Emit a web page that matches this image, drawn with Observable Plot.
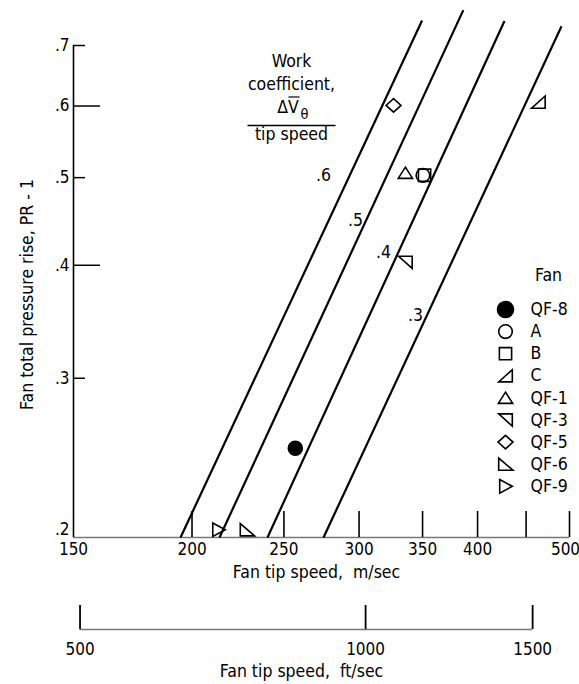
<!DOCTYPE html>
<html><head><meta charset="utf-8">
<script src="https://cdn.jsdelivr.net/npm/d3@7"></script>
<script src="https://cdn.jsdelivr.net/npm/@observablehq/plot@0.6"></script>
<style>
body{margin:0;background:#fff;}
#chart svg{display:block;}
</style></head><body><div id="chart"></div>
<script>
// ---- data ----
const fanNames = ["QF-8","A","B","C","QF-1","QF-3","QF-5","QF-6","QF-9"];
const fanTipSpeed = [257.0,350.3,351.7,463.6,335.7,335.7,326.2,228.6,213.3];   // m/sec
const fanPressureRise = [0.251,0.503,0.503,0.606,0.506,0.403,0.601,0.204,0.204]; // PR - 1
const coeffLabels = [".6",".5",".4",".3"];
const coeffSpeedLow = [194.5,213.8,240.2,275.2];
const coeffRiseLow = [0.2,0.2,0.2,0.2];
const coeffSpeedHigh = [349.6,386.4,427.0,490.4];
const coeffRiseHigh = [0.746,0.766,0.745,0.735];
const coeffLabelSpeed = [275.2,297.5,318.4,344.1];
const coeffLabelRise = [0.503,0.448,0.413,0.352];
const xTicks = [200,250,300,350,400,450,500];
const xLabelValues = [150,200,250,300,350,400,500];
const xTickLabels = ["150","200","250","300","350","400","500"];
const yMajorTicks = [0.4,0.6];
const yMinorTicks = [0.3,0.5,0.7];
const yTickValues = [0.2,0.3,0.4,0.5,0.6,0.7];
const yTickLabels = [".2",".3",".4",".5",".6",".7"];
const ftTicks = [500,1000,1500];
const ftTickLabels = ["500","1000","1500"];
const FT_PER_M = 1/0.3048;

// ---- symbols ----
const sym = f => ({draw(ctx, size){ const r = Math.sqrt(size/Math.PI); f(ctx, r); }});
const poly = pts => sym((c, r) => { pts.forEach(([a,b],i)=> i ? c.lineTo(a*r,b*r) : c.moveTo(a*r,b*r)); c.closePath(); });
const symbols = {
  "QF-8": sym((c,r)=>{c.moveTo(r,0); c.arc(0,0,r,0,2*Math.PI); c.closePath();}),
  "A": sym((c,r)=>{c.moveTo(r,0); c.arc(0,0,r,0,2*Math.PI); c.closePath();}),
  "B": poly([[-0.9,-0.9],[0.9,-0.9],[0.9,0.9],[-0.9,0.9]]),
  "C": poly([[-1,0.9],[1,0.9],[1,-0.9]]),
  "QF-1": poly([[0,-0.85],[1.05,0.8],[-1.05,0.8]]),
  "QF-3": poly([[-1,-0.9],[1,-0.9],[1,0.9]]),
  "QF-5": poly([[0,-1],[1.1,0],[0,1],[-1.1,0]]),
  "QF-6": poly([[-1,-0.9],[-1,0.9],[1.1,0.9]]),
  "QF-9": poly([[-0.85,-1],[1,0],[-0.85,1]])
};
const hbar = half => ({draw(c){ c.moveTo(-half,0); c.lineTo(half,0); }});
const lookup = (vals, labels) => d => labels[vals.indexOf(d)];

const font = '"DejaVu Sans Condensed","Liberation Sans Narrow","DejaVu Sans",sans-serif';
const coeffLines = coeffLabels.map((l,i)=>({l, u1:coeffSpeedLow[i], p1:coeffRiseLow[i], u2:coeffSpeedHigh[i], p2:coeffRiseHigh[i], lu:coeffLabelSpeed[i], lp:coeffLabelRise[i]}));
const fans = fanNames.map((n,i)=>({n, u:fanTipSpeed[i], p:fanPressureRise[i]}));
const lastX = xLabelValues.length - 1;

const p1 = Plot.plot({
  width: 579, height: 598, marginTop: 45, marginBottom: 61, marginLeft: 73, marginRight: 10,
  style: {fontFamily: font, fontSize: "17px", color: "#000", background: "#fff", overflow: "visible"},
  x: {type: "log", domain: [150, 500]},
  y: {type: "log", domain: [0.2, 0.7]},
  marks: [
    Plot.ruleY([0.2], {stroke: "#777", strokeWidth: 1.3}),
    Plot.ruleX([150], {stroke: "#000", strokeWidth: 1.6}),
    Plot.axisX({ticks: xTicks, tickSize: -26, fill: "none", label: null, strokeWidth: 1.6}),
    Plot.axisX({ticks: xLabelValues.slice(0, lastX), tickSize: 0, tickPadding: 5, tickFormat: lookup(xLabelValues, xTickLabels), label: null, fontSize: 17}),
    Plot.axisX({ticks: xLabelValues.slice(lastX), tickSize: 0, tickPadding: 5, dx: -4, tickFormat: lookup(xLabelValues, xTickLabels), label: null, fontSize: 17}),
    Plot.axisY({ticks: yMinorTicks, tickSize: -12, fill: "none", label: null, strokeWidth: 1.5}),
    Plot.axisY({ticks: yMajorTicks, tickSize: -27, fill: "none", label: null, strokeWidth: 1.5}),
    Plot.axisY({ticks: yTickValues.slice(1), tickSize: 0, tickPadding: 4, tickFormat: lookup(yTickValues, yTickLabels), label: null, fontSize: 17}),
    Plot.axisY({ticks: yTickValues.slice(0,1), tickSize: 0, tickPadding: 4, dy: -8, tickFormat: lookup(yTickValues, yTickLabels), label: null, fontSize: 17}),
    Plot.text(["Fan tip speed,  m/sec"], {frameAnchor: "bottom", dy: 35, dx: -5, fontSize: 17.5, lineAnchor: "middle"}),
    Plot.text(["Fan total pressure rise, PR - 1"], {frameAnchor: "left", rotate: -90, dx: -46, dy: 3, fontSize: 17.5, textAnchor: "middle", lineAnchor: "middle"}),
    // constant work coefficient lines
    Plot.link(coeffLines, {x1: "u1", y1: "p1", x2: "u2", y2: "p2", stroke: "#000", strokeWidth: 2.2}),
    Plot.text(coeffLines, {x: "lu", y: "lp", text: "l", fontSize: 17.5}),
    // annotation
    Plot.text(["Work\ncoefficient,"], {frameAnchor: "top-left", dx: 218, dy: 5, lineAnchor: "top", lineHeight: 1.33, fontSize: 17.5, textAnchor: "middle"}),
    Plot.text(["\u0394V"], {frameAnchor: "top-left", dx: 214.5, dy: 55, lineAnchor: "top", fontSize: 17.5, textAnchor: "middle"}),
    Plot.dot([0], {frameAnchor: "top-left", dx: 220.5, dy: 51.5, symbol: hbar(5.5), stroke: "#000", strokeWidth: 1.2}),
    Plot.text(["\u03b8"], {frameAnchor: "top-left", dx: 231, dy: 69, fontSize: 14.5, textAnchor: "middle", lineAnchor: "middle"}),
    Plot.dot([0], {frameAnchor: "top-left", dx: 218, dy: 80, symbol: hbar(44), stroke: "#000", strokeWidth: 1.3}),
    Plot.text(["tip speed"], {frameAnchor: "top-left", dx: 218, dy: 82, lineAnchor: "top", fontSize: 17.5, textAnchor: "middle"}),
    // fans
    ...fans.map(f => Plot.dot([f], {x: "u", y: "p", symbol: symbols[f.n], r: f.n === "QF-8" ? 7 : 6.8,
      stroke: "#000", strokeWidth: 1.6, fill: f.n === "QF-8" ? "#000" : "none"})),
    // legend
    Plot.text(["Fan"], {frameAnchor: "top-left", dx: 475, dy: 230, fontSize: 17.5, textAnchor: "middle", lineAnchor: "middle"}),
    ...fans.map((f, i) => Plot.dot([f], {frameAnchor: "top-left", dx: 432, dy: 264 + i * 22.1, symbol: symbols[f.n],
      r: f.n === "QF-8" ? 8 : 6.8, stroke: "#000", strokeWidth: 1.6, fill: f.n === "QF-8" ? "#000" : "none"})),
    ...fans.map((f, i) => Plot.text([f.n], {frameAnchor: "top-left", dx: 457, dy: 264 + i * 22.1, textAnchor: "start", lineAnchor: "middle", fontSize: 17.5}))
  ]
});

const p2 = Plot.plot({
  width: 579, height: 86, marginTop: 7, marginBottom: 55, marginLeft: 73, marginRight: 10,
  style: {fontFamily: font, fontSize: "17px", color: "#000", background: "#fff", overflow: "visible"},
  x: {type: "log", domain: [150 * FT_PER_M, 500 * FT_PER_M]},
  y: {domain: [0, 1], axis: null},
  marks: [
    Plot.ruleY([0], {x1: ftTicks[0], x2: ftTicks[ftTicks.length - 1], stroke: "#777", strokeWidth: 1.3}),
    Plot.axisX({ticks: ftTicks, tickSize: -24, fill: "none", label: null, strokeWidth: 1.8}),
    Plot.axisX({ticks: ftTicks, tickSize: 0, tickPadding: 13, tickFormat: lookup(ftTicks, ftTickLabels), label: null, fontSize: 17}),
    Plot.text(["Fan tip speed,  ft/sec"], {frameAnchor: "bottom", dy: 42, dx: -20, fontSize: 17.5, lineAnchor: "middle"})
  ]
});

document.getElementById("chart").append(p1, p2);
</script></body></html>
